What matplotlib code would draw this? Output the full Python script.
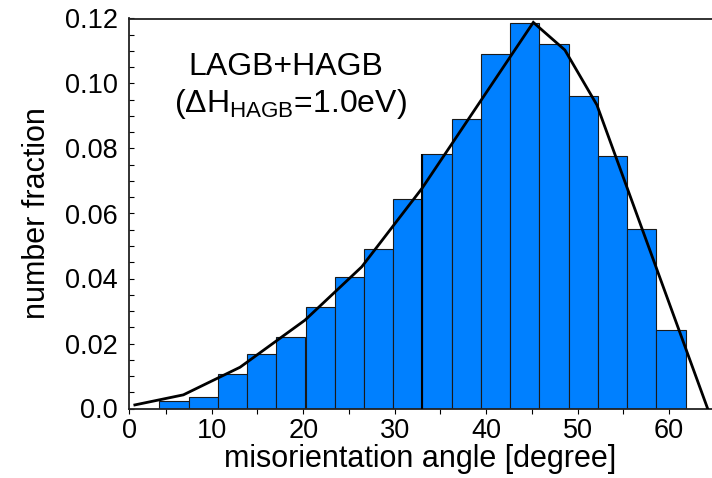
import matplotlib
matplotlib.use("Agg")
import matplotlib.pyplot as plt
from matplotlib.ticker import FixedLocator, FuncFormatter

plt.rcParams['font.family'] = ['Liberation Sans', 'DejaVu Sans']
plt.rcParams['mathtext.fontset'] = 'custom'
plt.rcParams['mathtext.rm'] = 'Liberation Sans'
plt.rcParams['mathtext.it'] = 'Liberation Sans'

# histogram data (bin centres in degree, number fraction)
bin_centers = [5.87, 9.07, 12.26, 15.46, 18.65, 21.85, 25.05, 28.24, 31.44,
               34.63, 37.83, 41.03, 44.22, 47.42, 50.61, 53.81, 57.01, 60.20]
fractions = [0.0023, 0.0036, 0.0106, 0.0167, 0.0219, 0.0311, 0.0404, 0.0490, 0.0644,
             0.0782, 0.0890, 0.1092, 0.1187, 0.1122, 0.0962, 0.0777, 0.0552, 0.0242]
bin_width = 3.196

# calculated distribution (polyline)
curve_x = [1.6, 6.9, 13.1, 20.2, 26.4, 33.0, 45.15, 48.6, 52.1, 64.2]
curve_y = [0.0011, 0.0042, 0.0127, 0.0272, 0.0436, 0.0678, 0.1188, 0.1103, 0.0934, 0.0]

x_ticks = [1, 10, 20, 30, 40, 50, 60]
x_ticklabels = ['0', '10', '20', '30', '40', '50', '60']
y_ticks = [0.0, 0.02, 0.04, 0.06, 0.08, 0.10, 0.12]

fig = plt.figure(figsize=(7.12, 4.78), dpi=100, facecolor='white')
ax = fig.add_axes([129 / 712, 69.5 / 478, 1 - 129 / 712, (408.5 - 18.5) / 478])

ax.bar(bin_centers, fractions, width=bin_width, color='#0080FF',
       edgecolor='#1a1a1a', linewidth=0.8, zorder=2)
ax.vlines(bin_centers[9] - bin_width / 2, 0, fractions[9], color='black', lw=1.5, zorder=3)
ax.plot(curve_x, curve_y, color='black', lw=2.0, zorder=4, solid_joinstyle='miter')

ax.set_xlim(0.96, 64.68)
ax.set_ylim(0, 0.12)

ax.set_xticks(x_ticks, labels=x_ticklabels)
ax.xaxis.set_minor_locator(FixedLocator([5, 15, 25, 35, 45, 55]))
ax.set_yticks(y_ticks)
ax.yaxis.set_major_formatter(FuncFormatter(lambda v, p: '0.0' if v == 0 else f'{v:.2f}'))
ax.yaxis.set_minor_locator(FixedLocator([i * 0.005 for i in range(25)]))

ax.tick_params(axis='x', which='both', direction='out', length=3.5, width=0.8,
               labelsize=19.5, pad=3, top=False)
ax.tick_params(axis='y', which='both', direction='in', length=3.5, width=0.8,
               labelsize=19.5, pad=8, right=False)

ax.spines['right'].set_visible(False)
for s in ['left', 'bottom', 'top']:
    ax.spines[s].set_linewidth(1.3)
    ax.spines[s].set_color('#222222')

ax.set_xlabel('misorientation angle [degree]', fontsize=22, labelpad=0)
ax.set_ylabel('number fraction', fontsize=22, labelpad=9)

ax.text(18.1, 0.1050, 'LAGB+HAGB', fontsize=23, ha='center', va='center')
ax.text(18.6, 0.0937, r'($\Delta$H$_{\mathrm{HAGB}}$=1.0eV)', fontsize=23,
        ha='center', va='center')

fig.savefig('out.png', dpi=100)
